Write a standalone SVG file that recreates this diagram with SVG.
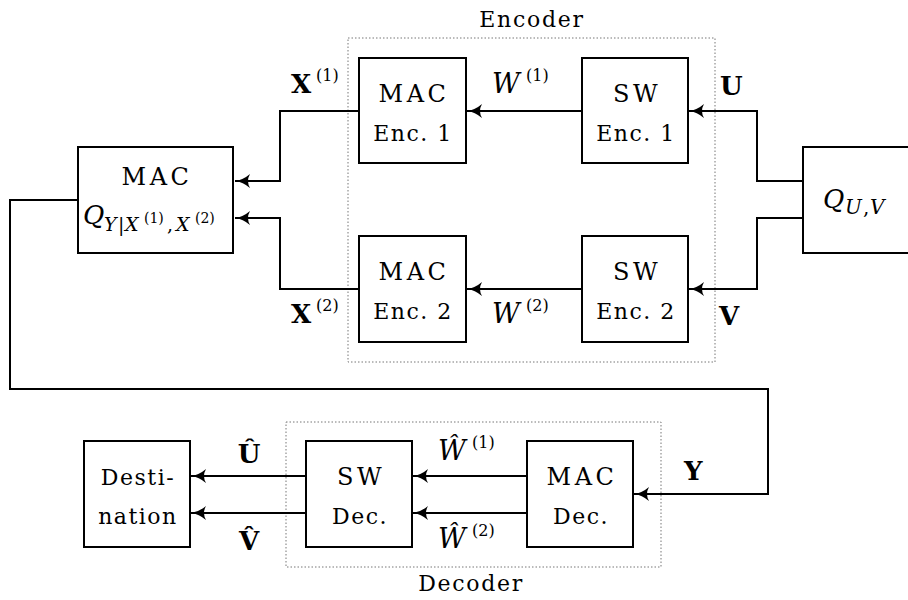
<svg xmlns="http://www.w3.org/2000/svg" width="908" height="600" viewBox="0 0 908 600">
<defs>
<style>
.box{fill:#fff;stroke:#000;stroke-width:2}
.grp{fill:none;stroke:#777;stroke-width:1;stroke-dasharray:1.5 2}
.ln{fill:none;stroke:#000;stroke-width:2;marker-end:url(#ah)}
text{font-family:"DejaVu Serif","Liberation Serif",serif;font-size:22px;fill:#000;letter-spacing:1.5px}
.c{text-anchor:middle}
.w{letter-spacing:3.5px;font-size:24px}
.t{font-size:22px;letter-spacing:1.7px}
.m{letter-spacing:0}
.i{font-style:italic}
.b{font-weight:bold}
.lb{font-size:26px}
</style>
<marker id="ah" markerWidth="18" markerHeight="16" refX="17" refY="8" orient="auto" markerUnits="userSpaceOnUse">
<path d="M17,8 Q9,9 2,15 Q6,8 2,1 Q9,7 17,8 Z" fill="#000"/>
</marker>
</defs>
<g id="encoder-group">
<rect class="grp" x="348" y="38" width="367" height="324"/>
<text class="c t" x="532" y="27">Encoder</text>
</g>
<g id="decoder-group">
<rect class="grp" x="286" y="422" width="375" height="145"/>
<text class="c t" x="471" y="591">Decoder</text>
</g>
<g id="connectors">
<path class="ln" d="M582,111 H467"/>
<path class="ln" d="M582,289 H467"/>
<path class="ln" d="M359,111 H280 V181 H235"/>
<path class="ln" d="M359,289 H280 V218 H235"/>
<path class="ln" d="M803,181 H757 V111 H689"/>
<path class="ln" d="M803,218 H757 V289 H689"/>
<path class="ln" d="M78,200 H10 V389 H768 V494 H634"/>
<path class="ln" d="M527,476 H413"/>
<path class="ln" d="M527,513 H413"/>
<path class="ln" d="M306,476 H191"/>
<path class="ln" d="M306,513 H191"/>
</g>
<g id="mac-enc1">
<rect class="box" x="359" y="58" width="107" height="105"/>
<text class="c w" x="414" y="102">MAC</text>
<text class="c" x="413" y="141">Enc. 1</text>
</g>
<g id="sw-enc1">
<rect class="box" x="582" y="58" width="106" height="105"/>
<text class="c w" x="637" y="102">SW</text>
<text class="c" x="636" y="141">Enc. 1</text>
</g>
<g id="mac-enc2">
<rect class="box" x="359" y="236" width="107" height="106"/>
<text class="c w" x="414" y="280">MAC</text>
<text class="c" x="413" y="319">Enc. 2</text>
</g>
<g id="sw-enc2">
<rect class="box" x="582" y="236" width="106" height="106"/>
<text class="c w" x="637" y="280">SW</text>
<text class="c" x="636" y="319">Enc. 2</text>
</g>
<g id="mac">
<rect class="box" x="78" y="147" width="155" height="106"/>
<text class="c w" x="157" y="185">MAC</text>
<text class="m"><tspan class="i" x="83" y="224" font-size="26">Q</tspan><tspan class="i" x="104" y="231" font-size="19">Y</tspan><tspan x="118" y="231" font-size="19">|</tspan><tspan class="i" x="125" y="231" font-size="19">X</tspan><tspan x="144" y="223" font-size="14">(1)</tspan><tspan x="167" y="231" font-size="19">,</tspan><tspan class="i" x="176" y="231" font-size="19">X</tspan><tspan x="195" y="223" font-size="14">(2)</tspan></text>
</g>
<g id="q-uv">
<rect class="box" x="803" y="147" width="110" height="106"/>
<text class="m"><tspan class="i" x="823" y="208" font-size="26">Q</tspan><tspan class="i" x="845" y="214" font-size="20">U</tspan><tspan x="863" y="214" font-size="20">,</tspan><tspan class="i" x="870" y="214" font-size="20">V</tspan></text>
</g>
<g id="mac-dec">
<rect class="box" x="527" y="441" width="106" height="106"/>
<text class="c w" x="582" y="485">MAC</text>
<text class="c" x="581" y="524">Dec.</text>
</g>
<g id="sw-dec">
<rect class="box" x="306" y="441" width="106" height="106"/>
<text class="c w" x="361" y="485">SW</text>
<text class="c" x="360" y="524">Dec.</text>
</g>
<g id="destination">
<rect class="box" x="84" y="441" width="106" height="106"/>
<text class="c" x="138" y="485">Desti-</text>
<text class="c" x="138" y="524">nation</text>
</g>
<g id="labels">
<text class="m"><tspan class="b" x="291" y="93" font-size="26">X</tspan><tspan x="316" y="81" font-size="16">(1)</tspan></text>
<text class="m"><tspan class="b" x="291" y="323" font-size="26">X</tspan><tspan x="316" y="311" font-size="16">(2)</tspan></text>
<text class="m"><tspan class="i" x="492" y="93" font-size="27">W</tspan><tspan x="526" y="81" font-size="16">(1)</tspan></text>
<text class="m"><tspan class="i" x="492" y="323" font-size="27">W</tspan><tspan x="526" y="311" font-size="16">(2)</tspan></text>
<text class="b m lb" x="720" y="95">U</text>
<text class="b m lb" x="719" y="325">V</text>
<text class="b m lb" x="684" y="480">Y</text>
<text class="b m c lb" x="249" y="463">Û</text>
<text class="b m c lb" x="249" y="550">V̂</text>
<text class="m"><tspan class="i" x="438" y="460" font-size="27">Ŵ</tspan><tspan x="472" y="448" font-size="16">(1)</tspan></text>
<text class="m"><tspan class="i" x="438" y="548" font-size="27">Ŵ</tspan><tspan x="472" y="536" font-size="16">(2)</tspan></text>
</g>
</svg>
